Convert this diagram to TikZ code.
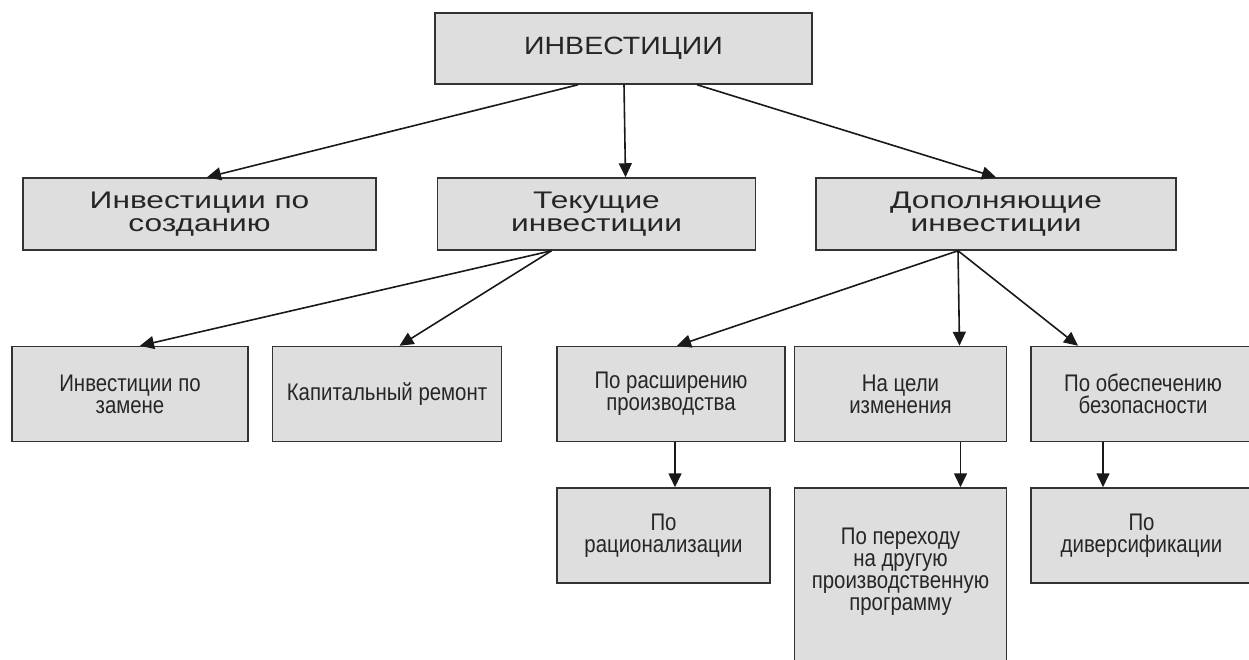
\documentclass[tikz,border=0pt]{standalone}
\usepackage{fontspec}
\setmainfont{Liberation Sans}
\newfontfamily\topfont[FakeStretch=1.14]{Liberation Sans}
\newfontfamily\widefont[FakeStretch=1.32]{Liberation Sans}
\newfontfamily\narrowfont[FakeStretch=0.85]{Liberation Sans}
\usetikzlibrary{arrows.meta,positioning}
\tikzset{
  box/.style={draw=black!80,line width=1.5pt,fill=black!13,inner sep=0pt,align=center,text=black!85},
  topbox/.style={box,font=\topfont\fontsize{25}{25}\selectfont},
  bigbox/.style={box,font=\widefont\fontsize{24}{23}\selectfont},
  smallbox/.style={box,font=\narrowfont\fontsize{24}{22}\selectfont},
  arr/.style={-{Triangle[length=14pt,width=13pt]},line width=1.6pt,black!90}
}
\begin{document}
\begin{tikzpicture}[x=1pt,y=-1pt]
                \useasboundingbox (0,0) rectangle (1249,659);
                \path (623.5,48.5) node[topbox,minimum width=377pt,minimum height=71pt] (inv) {ИНВЕСТИЦИИ};
                \path (199.5,214) node[bigbox,minimum width=353pt,minimum height=72pt] (create) {Инвестиции по\\созданию};
                \path node[bigbox,minimum width=318pt,minimum height=72pt,right=60pt of create] (current) {Текущие\\инвестиции};
                \path node[bigbox,minimum width=360pt,minimum height=72pt,right=59pt of current] (supplement) {Дополняющие\\инвестиции};
                \path (130,394) node[smallbox,minimum width=236pt,minimum height=95pt] (replace) {Инвестиции по\\замене};
                \path node[smallbox,minimum width=229pt,minimum height=95pt,right=23pt of replace] (repair) {Капитальный ремонт};
                \path node[smallbox,minimum width=228pt,minimum height=95pt,right=54pt of repair] (expand) {По расширению\\производства};
                \path node[smallbox,minimum width=212pt,minimum height=95pt,right=8pt of expand] (change) {На цели\\изменения};
                \path node[smallbox,minimum width=224pt,minimum height=95pt,right=23pt of change] (safety) {По обеспечению\\безопасности};
                \path node[smallbox,minimum width=213pt,minimum height=95pt,below=45pt of expand.south west,anchor=north west] (rational) {По\\рационализации};
                \path node[smallbox,minimum width=212pt,minimum height=180pt,below=45pt of change.south west,anchor=north west] (program) {По переходу\\на другую\\производственную\\программу\\[-4pt]\mbox{}};
                \path node[smallbox,minimum width=221pt,minimum height=95pt,below=45pt of safety.south west,anchor=north west] (diversity) {По\\диверсификации};
                \draw[arr] ([xshift=-45.5pt]inv.south) -- ([xshift=7.5pt]create.north);
                \draw[arr] ([xshift=0.5pt]inv.south) -- ([xshift=29pt]current.north);
                \draw[arr] ([xshift=73.5pt]inv.south) -- (supplement.north);
                \draw[arr] ([xshift=-45pt]current.south) -- ([xshift=10pt]replace.north);
                \draw[arr] ([xshift=-45pt]current.south) -- ([xshift=12.5pt]repair.north);
                \draw[arr] ([xshift=-38pt]supplement.south) -- ([xshift=6pt]expand.north);
                \draw[arr] ([xshift=-38pt]supplement.south) -- ([xshift=59pt]change.north);
                \draw[arr] ([xshift=-38pt]supplement.south) -- ([xshift=-65pt]safety.north);
                \draw[arr] ([xshift=4pt]expand.south) -- ([xshift=4pt]expand.south |- rational.north);
                \draw[arr] ([xshift=60pt]change.south) -- ([xshift=60pt]change.south |- program.north);
                \draw[arr] ([xshift=-40pt]safety.south) -- ([xshift=-40pt]safety.south |- diversity.north);
              \end{tikzpicture}
\end{document}
